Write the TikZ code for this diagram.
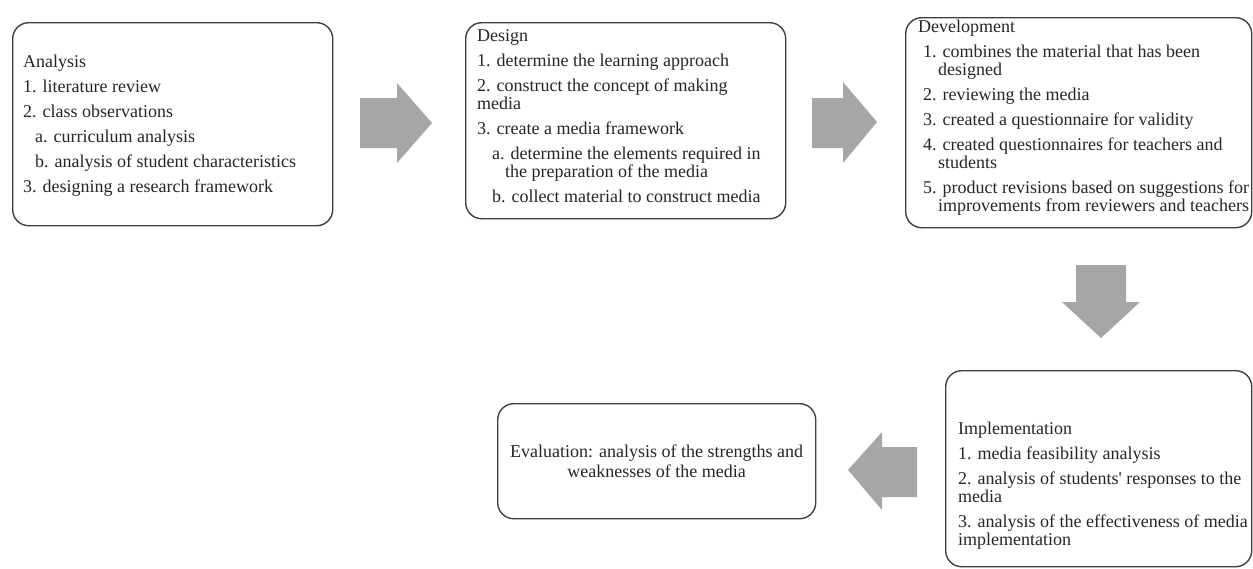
\documentclass[tikz,border=0pt]{standalone}
\usepackage{fontspec}
\setmainfont{Liberation Serif}
\begin{document}
\begin{tikzpicture}[x=1pt,y=-1pt,
  box/.style={draw=black!75,line width=1.4pt,rounded corners=16pt,fill=white},
  txt/.style={align=left,inner sep=0pt,text=black!85,font=\fontsize{18}{18}\selectfont},
  blockarrow/.style={fill=black!35,draw=none}]
\useasboundingbox[fill=white] (0,0) rectangle (1253,568);
% boxes
\node[box,anchor=north west,minimum width=320pt,minimum height=203pt] (ana) at (12,22) {};
\node[box,anchor=north west,minimum width=320pt,minimum height=196pt] (des) at (465,22) {};
\node[box,anchor=north west,minimum width=346pt,minimum height=210pt] (dev) at (905,17) {};
\node[box,anchor=north west,minimum width=306pt,minimum height=196pt] (imp) at (945,370) {};
\node[box,anchor=north west,minimum width=318pt,minimum height=115pt] (eva) at (497,403) {};
% texts
\node[txt,anchor=west] (anat) at ([xshift=11pt,yshift=-1pt]ana.west) {Analysis\\[7pt]
1. literature review\\[7pt]
2. class observations\\[7pt]
\hspace*{12pt}a. curriculum analysis\\[7pt]
\hspace*{12pt}b. analysis of student characteristics\\[7pt]
3. designing a research framework};
\node[txt,anchor=north west] (dest) at ([xshift=12pt,yshift=-7pt]des.north west) {Design\\[7pt]
1. determine the learning approach\\[7pt]
2. construct the concept of making\\
media\\[7pt]
3. create a media framework\\[7pt]
\hspace*{15pt}a. determine the elements required in\\
\hspace*{28pt}the preparation of the media\\[7pt]
\hspace*{15pt}b. collect material to construct media};
\node[txt,anchor=north west] (devt) at ([xshift=13pt,yshift=-3pt]dev.north west) {Development\\[7pt]
\hspace*{5pt}1. combines the material that has been\\
\hspace*{20pt}designed\\[7pt]
\hspace*{5pt}2. reviewing the media\\[7pt]
\hspace*{5pt}3. created a questionnaire for validity\\[7pt]
\hspace*{5pt}4. created questionnaires for teachers and\\
\hspace*{20pt}students\\[7pt]
\hspace*{5pt}5. product revisions based on suggestions for\\
\hspace*{20pt}improvements from reviewers and teachers};
\node[txt,anchor=north west] (impt) at ([xshift=13pt,yshift=-52pt]imp.north west) {Implementation\\[7pt]
1. media feasibility analysis\\[7pt]
2. analysis of students\textquotesingle{} responses to the\\
media\\[7pt]
3. analysis of the effectiveness of media\\
implementation};
\node[txt,align=center,font=\fontsize{18}{20}\selectfont] (evat) at (eva.center) {Evaluation: analysis of the strengths and\\
weaknesses of the media};
% block arrows
\fill[blockarrow] (360,98) -- (397,98) -- (397,83) -- (432,123) -- (397,163) -- (397,148) -- (360,148) -- cycle;
\fill[blockarrow] (812,98) -- (843,98) -- (843,82) -- (877,122) -- (843,163) -- (843,148) -- (812,148) -- cycle;
\fill[blockarrow] (1076,265) -- (1126,265) -- (1126,302) -- (1140,302) -- (1101,338) -- (1062,302) -- (1076,302) -- cycle;
\fill[blockarrow] (917,447) -- (882,447) -- (882,432) -- (848,470) -- (882,510) -- (882,497) -- (917,497) -- cycle;
\end{tikzpicture}
\end{document}
